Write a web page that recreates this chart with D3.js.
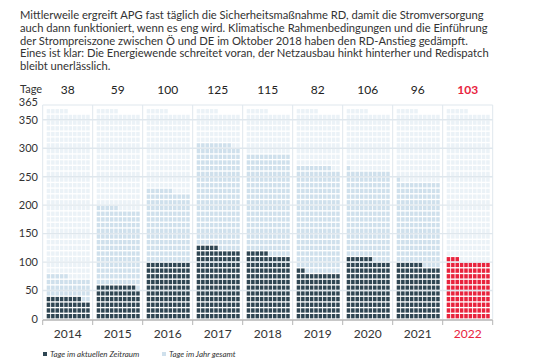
<!DOCTYPE html>
<html>
<head>
<meta charset="utf-8">
<script src="https://cdn.jsdelivr.net/npm/d3@7"></script>
<style>
  body { margin: 0; background: #fff; }
  svg { display: block; }
</style>
</head>
<body>
<svg id="chart" width="540" height="360"></svg>
<script>
//Data
const years = ["2014", "2015", "2016", "2017", "2018", "2019", "2020", "2021", "2022"];
const daysCurrent = [38, 59, 100, 125, 115, 82, 106, 96, 103];   //Tage im aktuellen Zeitraum
const daysYear = [75, 195, 226, 308, 290, 268, 261, 241, 103];   //Tage im Jahr gesamt
const yTicks = [0, 50, 100, 150, 200, 250, 300, 350];
const introLines = [
  "Mittlerweile ergreift APG fast täglich die Sicherheitsmaßnahme RD, damit die Stromversorgung",
  "auch dann funktioniert, wenn es eng wird. Klimatische Rahmenbedingungen und die Einführung",
  "der Strompreiszone zwischen Ö und DE im Oktober 2018 haben den RD-Anstieg  gedämpft.",
  "Eines ist klar: Die Energiewende schreitet voran, der Netzausbau hinkt hinterher und Redispatch",
  "bleibt unerlässlich."
];
const legendItems = ["Tage im aktuellen Zeitraum", "Tage im Jahr gesamt"];

const colors = {
  dark: "#2f4653",
  red: "#e8233d",
  light: "#cfe0ec",
  faint: "#ebf2f7",
  grid: "#dfe7ed",
  text: "#333"
};

const svg = d3.select("#chart");

//Intro text
svg.append("g")
  .selectAll("text")
  .data(introLines)
  .join("text")
    .attr("x", 20)
    .attr("y", (d, i) => 19 + i * 12.8)
    .attr("font-family", "Lato, sans-serif")
    .attr("font-size", 11.2)
    .attr("fill", colors.text)
    .text(d => d);

//Scales
const x = d3.scaleBand()
  .domain(years)
  .range([42.7, 492.7]);

const y = d3.scaleLinear()
  .domain([0, 376])
  .range([319, 105]);

const cellX = d3.scaleBand()
  .domain(d3.range(10))
  .range([4, x.bandwidth() - 3])
  .paddingInner(0.2);

const rowH = y(0) - y(10);
const cellH = rowH * 0.76;

//Vertical grid lines (under)
svg.append("g")
  .selectAll("line")
  .data(years.concat(["end"]))
  .join("line")
    .attr("x1", (d, i) => x.range()[0] + i * x.step())
    .attr("x2", (d, i) => x.range()[0] + i * x.step())
    .attr("y1", y.range()[1])
    .attr("y2", y(0))
    .attr("stroke", colors.grid);

//Waffle cells: one per day of the year
const cells = [];
years.forEach((yr, j) => {
  for (let i = 0; i < 365; i++) {
    let fill = colors.faint;
    if (i < daysYear[j]) fill = colors.light;
    if (i < daysCurrent[j]) fill = yr === "2022" ? colors.red : colors.dark;
    cells.push({ year: yr, i, fill });
  }
});

svg.append("g")
  .selectAll("rect")
  .data(cells)
  .join("rect")
    .attr("x", d => x(d.year) + cellX(d.i % 10))
    .attr("y", d => y(Math.floor(d.i / 10) * 10 + 10) + (rowH - cellH) / 2)
    .attr("width", cellX.bandwidth())
    .attr("height", cellH)
    .attr("fill", d => d.fill);

//Horizontal grid lines (over, light)
svg.append("g")
  .selectAll("line")
  .data(yTicks.slice(1))
  .join("line")
    .attr("x1", x.range()[0])
    .attr("x2", x.range()[1])
    .attr("y1", d => y(d))
    .attr("y2", d => y(d))
    .attr("stroke", colors.grid)
    .attr("stroke-width", 1.4);

svg.append("line")
  .attr("x1", x.range()[0])
  .attr("x2", x.range()[1])
  .attr("y1", y.range()[1])
  .attr("y2", y.range()[1])
  .attr("stroke", colors.grid);

//Y axis labels
const yLabels = svg.append("g")
  .attr("font-family", "Lato, sans-serif")
  .attr("font-size", 11)
  .attr("fill", colors.text)
  .attr("text-anchor", "end");

yLabels.selectAll("text")
  .data(yTicks)
  .join("text")
    .attr("x", 38)
    .attr("y", d => y(d))
    .attr("dy", "0.35em")
    .text(d => d);

yLabels.append("text")
  .attr("x", 38)
  .attr("y", y.range()[1])
  .attr("dy", "0.1em")
  .text("365");

//X axis
const xAxis = svg.append("g")
  .attr("transform", `translate(0,${y(0) + 1})`);

xAxis.append("line")
  .attr("x1", x.range()[0])
  .attr("x2", x.range()[1])
  .attr("stroke", "#b5b5b5")
  .attr("stroke-width", 1.5);

xAxis.selectAll("line.tick")
  .data(years.concat(["end"]))
  .join("line")
    .attr("class", "tick")
    .attr("x1", (d, i) => x.range()[0] + i * x.step())
    .attr("x2", (d, i) => x.range()[0] + i * x.step())
    .attr("y1", 0)
    .attr("y2", 5)
    .attr("stroke", "#b5b5b5");

xAxis.selectAll("text")
  .data(years)
  .join("text")
    .attr("x", d => x(d) + x.bandwidth() / 2)
    .attr("y", 18)
    .attr("text-anchor", "middle")
    .attr("font-family", "Lato, sans-serif")
    .attr("font-size", 12)
    .attr("fill", d => d === "2022" ? colors.red : colors.text)
    .text(d => d);

//Header row: Tage
svg.append("text")
  .attr("x", 20)
  .attr("y", 93)
  .attr("font-family", "Lato, sans-serif")
  .attr("font-size", 11)
  .attr("fill", colors.text)
  .text("Tage");

svg.append("g")
  .selectAll("text")
  .data(years)
  .join("text")
    .attr("x", d => x(d) + x.bandwidth() / 2)
    .attr("y", 94)
    .attr("text-anchor", "middle")
    .attr("font-family", "Lato, sans-serif")
    .attr("font-size", 12)
    .attr("font-weight", (d) => d === "2022" ? "bold" : "normal")
    .attr("fill", d => d === "2022" ? colors.red : "#222")
    .text((d, i) => daysCurrent[i]);

//Legend
const legend = svg.append("g")
  .attr("font-family", "Lato, sans-serif")
  .attr("font-size", 8)
  .attr("font-style", "italic")
  .attr("fill", colors.text);

const legendX = [43, 162];
const legendFill = [colors.dark, colors.light];
legendItems.forEach((txt, i) => {
  legend.append("rect")
    .attr("x", legendX[i])
    .attr("y", 352)
    .attr("width", 4)
    .attr("height", 4)
    .attr("fill", legendFill[i]);
  legend.append("text")
    .attr("x", legendX[i] + 7)
    .attr("y", 357)
    .text(txt);
});
</script>
</body>
</html>
